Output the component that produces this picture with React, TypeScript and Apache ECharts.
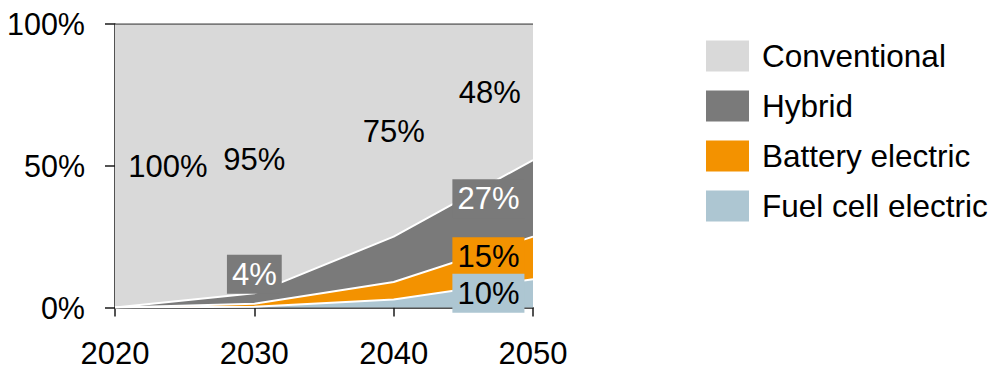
import React, { useEffect, useRef } from "react";
import * as echarts from "echarts";

const years = ["2020", "2030", "2040", "2050"];
const fuelCell = [0, 0.3, 2.8, 10];
const battery = [0, 1.0, 6.2, 15];
const hybrid = [0, 3.7, 16, 27];
const conventional = [100, 95, 75, 48];
const seriesNames = ["Conventional", "Hybrid", "Battery electric", "Fuel cell electric"];
const yTicks = [0, 50, 100];

const FONT = "'Liberation Sans', Arial, sans-serif";
const colors: Record<string, string> = {
  Conventional: "#d9d9d9",
  Hybrid: "#7a7a7a",
  "Battery electric": "#f39200",
  "Fuel cell electric": "#adc6d2",
};

// annotation texts anchored in data coordinates [year, percent]
const annotations = [
  { text: "100%", at: [2023.8, 49.6], bg: "", color: "#000" },
  { text: "95%", at: [2030, 52.1], bg: "", color: "#000" },
  { text: "75%", at: [2040, 62.0], bg: "", color: "#000" },
  { text: "48%", at: [2046.9, 76.0], bg: "", color: "#000" },
  { text: "4%", at: [2030, 11.7], bg: "#7a7a7a", color: "#fff" },
  { text: "27%", at: [2046.8, 38.4], bg: "#7a7a7a", color: "#fff" },
  { text: "15%", at: [2046.8, 17.9], bg: "#f39200", color: "#000" },
  { text: "10%", at: [2046.8, 5.0], bg: "#adc6d2", color: "#000" },
];

export default function App() {
  const ref = useRef<HTMLDivElement>(null);
  useEffect(() => {
    if (!ref.current) return;
    const chart = echarts.init(ref.current, undefined, { renderer: "svg" });
    const mk = (name: string, vals: number[], z: number, line: any) => ({
      name,
      type: "line",
      stack: "total",
      z,
      symbol: "none",
      data: vals,
      color: colors[name],
      itemStyle: { color: colors[name] },
      lineStyle: line,
      areaStyle: { color: colors[name], opacity: 1 },
      emphasis: { disabled: true },
    });
    chart.setOption({
      animation: false,
      textStyle: { fontFamily: FONT },
      grid: { left: 115, right: 459, top: 24, bottom: 57, containLabel: false },
      legend: {
        data: seriesNames,
        orient: "vertical",
        left: 706,
        top: 40,
        padding: 0,
        itemWidth: 43,
        itemHeight: 31,
        itemGap: 18,
        icon: "rect",
        itemStyle: { borderWidth: 0 },
        lineStyle: { width: 0 },
        selectedMode: false,
        textStyle: { fontSize: 31.5, color: "#000", fontFamily: FONT, padding: [0, 0, 0, 8] },
      },
      xAxis: {
        type: "category",
        data: years,
        boundaryGap: false,
        axisLine: { show: true, lineStyle: { color: "#1a1a1a", width: 1.5 } },
        axisTick: { show: true, length: 9, alignWithLabel: true, lineStyle: { color: "#1a1a1a", width: 1.5 } },
        splitLine: { show: false },
        axisLabel: { fontSize: 31, lineHeight: 20, color: "#000", margin: 36, fontFamily: FONT, interval: 0 },
      },
      yAxis: {
        type: "value",
        min: yTicks[0],
        max: yTicks[yTicks.length - 1],
        interval: 50,
        axisLine: { show: true, lineStyle: { color: "#1a1a1a", width: 1.5 } },
        axisTick: { show: true, length: 10, lineStyle: { color: "#1a1a1a", width: 1.5 } },
        splitLine: { show: false },
        axisLabel: { fontSize: 30.5, color: "#000", margin: 30, formatter: "{value}%", fontFamily: FONT },
      },
      series: [
        mk("Fuel cell electric", fuelCell, 5, { color: "#fff", width: 2 }),
        mk("Battery electric", battery, 4, { color: "#fff", width: 2 }),
        mk("Hybrid", hybrid, 3, { color: "#fff", width: 2 }),
        mk("Conventional", conventional, 2, { color: "#5a5a5a", width: 1.5 }),
      ],
    });
    const yearNums = years.map(Number);
    const toPixel = (yr: number, v: number) => {
      let i = 0;
      while (i < yearNums.length - 2 && yr > yearNums[i + 1]) i++;
      const t = (yr - yearNums[i]) / (yearNums[i + 1] - yearNums[i]);
      const a = chart.convertToPixel({ gridIndex: 0 }, [i, v]) as number[];
      const b = chart.convertToPixel({ gridIndex: 0 }, [i + 1, v]) as number[];
      return [a[0] + (b[0] - a[0]) * t, a[1]];
    };
    const graphics = annotations.map((a) => {
      const p = toPixel(a.at[0], a.at[1]);
      return {
        type: "text",
        x: p[0],
        y: p[1],
        z: 100,
        style: {
          text: a.text,
          fontSize: 31,
          fontFamily: FONT,
          fill: a.color,
          align: "center",
          verticalAlign: "middle",
          lineHeight: 31,
          backgroundColor: a.bg || undefined,
          padding: a.bg ? [4, 5, 4, 5] : 0,
        },
      };
    });
    chart.setOption({ graphic: graphics });
    return () => chart.dispose();
  }, []);
  return (
    <div
      ref={ref}
      style={{ position: "absolute", left: 0, top: 0, width: 992, height: 369 }}
    />
  );
}
